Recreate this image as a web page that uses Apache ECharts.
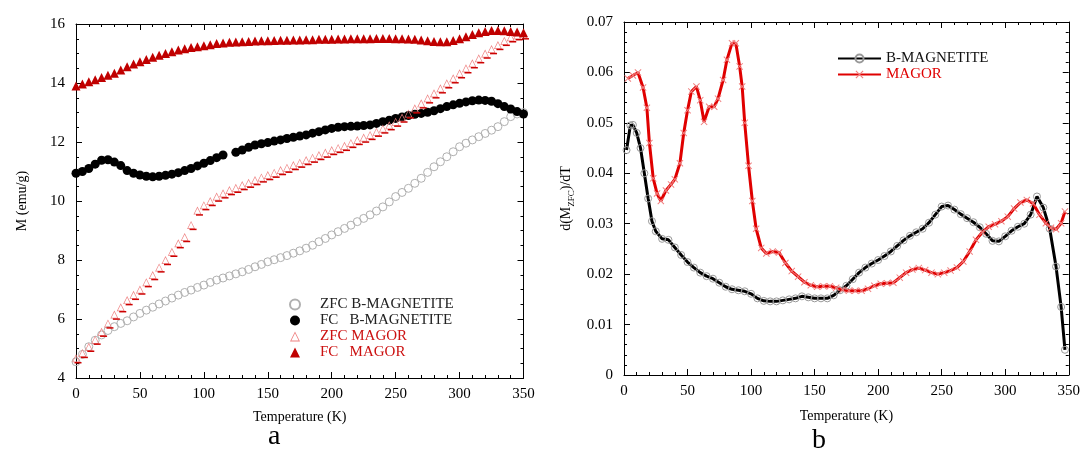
<!DOCTYPE html>
<html>
<head>
<meta charset="utf-8">
<script src="https://cdn.jsdelivr.net/npm/echarts@6/dist/echarts.min.js"></script>
<style>
html,body{margin:0;padding:0;background:#fff;}
#c{width:1083px;height:455px;}
</style>
</head>
<body>
<div id="c"></div>
<script>
// ---------- Panel a data (T in K, M in emu/g) ----------
const tempsA = [0,5,10,15,20,25,30,35,40,45,50,55,60,65,70,75,80,85,90,95,100,105,110,115,120,125,130,135,140,145,150,155,160,165,170,175,180,185,190,195,200,205,210,215,220,225,230,235,240,245,250,255,260,265,270,275,280,285,290,295,300,305,310,315,320,325,330,335,340,345,350];
const zfcBMag = [4.55,4.8,5.06,5.28,5.46,5.61,5.74,5.85,5.94,6.07,6.19,6.3,6.4,6.51,6.61,6.71,6.81,6.9,6.98,7.07,7.15,7.24,7.32,7.39,7.46,7.53,7.6,7.68,7.77,7.85,7.94,8.01,8.08,8.15,8.23,8.31,8.4,8.5,8.62,8.73,8.85,8.96,9.07,9.18,9.3,9.41,9.53,9.66,9.8,9.97,10.15,10.29,10.43,10.6,10.77,10.97,11.16,11.33,11.5,11.67,11.84,11.96,12.07,12.18,12.29,12.4,12.52,12.69,12.86,12.95,13.0];
const fcBMag = [10.94,11.0,11.1,11.25,11.38,11.4,11.32,11.2,11.03,10.94,10.88,10.84,10.82,10.84,10.87,10.91,10.96,11.03,11.1,11.19,11.28,11.37,11.47,11.56,null,11.65,11.73,11.82,11.9,11.94,11.98,12.03,12.07,12.12,12.16,12.2,12.24,12.3,12.35,12.41,12.46,12.5,12.52,12.53,12.54,12.56,12.58,12.63,12.69,12.74,12.8,12.85,12.9,12.94,12.97,13.01,13.06,13.13,13.2,13.26,13.31,13.36,13.4,13.42,13.41,13.38,13.3,13.2,13.12,13.03,12.95];
const zfcMagor = [4.67,4.85,5.06,5.3,5.57,5.85,6.15,6.4,6.64,6.82,7.0,7.25,7.49,7.75,8.0,8.28,8.57,8.78,9.19,9.68,9.86,10.0,10.15,10.26,10.37,10.45,10.54,10.62,10.71,10.8,10.88,10.96,11.05,11.13,11.22,11.3,11.39,11.47,11.56,11.64,11.73,11.8,11.87,11.97,12.07,12.15,12.24,12.35,12.46,12.57,12.69,12.83,12.97,13.14,13.31,13.48,13.65,13.82,13.99,14.16,14.33,14.5,14.67,14.84,15.0,15.15,15.29,15.43,15.55,15.62,15.65];
const fcMagor = [13.9,13.97,14.04,14.11,14.19,14.26,14.33,14.44,14.55,14.64,14.72,14.8,14.87,14.94,15.0,15.06,15.12,15.16,15.2,15.23,15.26,15.3,15.34,15.36,15.38,15.39,15.4,15.41,15.42,15.43,15.43,15.44,15.45,15.45,15.46,15.46,15.47,15.47,15.48,15.48,15.48,15.49,15.49,15.5,15.5,15.5,15.5,15.51,15.51,15.51,15.5,15.5,15.49,15.48,15.46,15.43,15.41,15.4,15.4,15.44,15.5,15.57,15.64,15.7,15.75,15.78,15.78,15.77,15.75,15.73,15.7];

// ---------- Panel b data (T in K, dM_ZFC/dT) ----------
const tempsB = [2,5,7,10,13,16,19,22,25,30,35,40,45,50,55,60,65,70,75,80,85,90,95,100,105,110,115,120,125,130,135,140,145,150,155,160,165,170,175,180,185,190,195,200,205,210,215,220,225,230,235,240,245,250,255,260,265,270,275,280,285,290,295,300,305,310,315,320,325,330,335,340,344,347];
const dBMag = [0.0446,0.0495,0.0496,0.048,0.045,0.040,0.035,0.0305,0.0285,0.027,0.0268,0.0253,0.0238,0.0224,0.0213,0.0203,0.0196,0.0191,0.0183,0.0175,0.017,0.0168,0.0166,0.0161,0.0152,0.0147,0.0146,0.0146,0.0148,0.015,0.0152,0.0156,0.0154,0.0152,0.0152,0.0152,0.0158,0.0168,0.0177,0.019,0.0203,0.0213,0.0221,0.0228,0.0236,0.0245,0.0256,0.0267,0.0276,0.0283,0.029,0.0302,0.0318,0.0334,0.0336,0.0328,0.0319,0.0311,0.0303,0.0293,0.028,0.0266,0.0265,0.0275,0.0286,0.0294,0.03,0.0318,0.0354,0.0332,0.029,0.0215,0.0135,0.005];
const tempsM = [3,7,11,15,18,20,23,26,29,33,37,40,44,47,50,53,57,60,63,67,71,74,78,81,85,88,91,93,95,98,101,104,108,112,117,122,127,132,137,142,147,152,157,162,167,172,177,182,187,192,197,202,207,212,217,222,227,232,237,242,247,252,257,262,267,272,277,282,287,292,297,302,307,312,317,322,327,332,336,340,344,347];
const dMagor = [0.0588,0.0594,0.06,0.057,0.053,0.046,0.039,0.036,0.0345,0.0366,0.0378,0.0388,0.042,0.048,0.0525,0.0562,0.0572,0.0545,0.0502,0.0532,0.0532,0.0548,0.0585,0.0625,0.0658,0.0658,0.0612,0.0572,0.05,0.0415,0.0345,0.029,0.0252,0.0241,0.0245,0.0243,0.0222,0.0206,0.0195,0.0184,0.0178,0.0175,0.0176,0.0176,0.0173,0.0169,0.0167,0.0167,0.0167,0.0171,0.0177,0.0181,0.0182,0.0183,0.0193,0.0203,0.0209,0.0212,0.0208,0.0203,0.02,0.0203,0.0207,0.0213,0.0225,0.0245,0.0268,0.0283,0.0294,0.0299,0.0305,0.0314,0.033,0.0342,0.0347,0.034,0.0318,0.0301,0.0292,0.0289,0.0301,0.0324];

const FONT = 'Liberation Serif';
const pairs = (xs, ys) => xs.map((x, i) => [x, ys[i]]);

const chart = echarts.init(document.getElementById('c'), null, {renderer: 'canvas'});

function axis(extra) {
  return Object.assign({
    type: 'value',
    axisLine: {show: true, onZero: false, lineStyle: {color: '#000', width: 1}},
    axisTick: {show: true, inside: true, length: 6, lineStyle: {color: '#000'}},
    minorTick: {show: true, splitNumber: 5, length: 3, lineStyle: {color: '#000'}},
    splitLine: {show: false},
    minorSplitLine: {show: false},
    axisLabel: {fontFamily: FONT, fontSize: 15, color: '#000'}
  }, extra);
}

const xA = {min: 0, max: 350, interval: 50};
const yA = {min: 4, max: 16, interval: 2};
const yB = {min: 0, max: 0.07, interval: 0.01};

const XMARK = 'path://M0,1L1,0L5,4L9,0L10,1L6,5L10,9L9,10L5,6L1,10L0,9L4,5Z';
const OPEN_TRI = 'path://M5,0L10,10L0,10Z M5,1.8L1.4,9.1L8.6,9.1Z';

const option = {
  animation: false,
  backgroundColor: '#fff',
  grid: [
    {left: 76, top: 24, width: 447.5, height: 354},
    {left: 624, top: 22, width: 447, height: 353}
  ],
  xAxis: [
    axis(Object.assign({gridIndex: 0, position: 'bottom', name: 'Temperature (K)', nameLocation: 'middle', nameGap: 32,
      nameTextStyle: {fontFamily: FONT, fontSize: 14, color: '#000'},
      axisLabel: {fontFamily: FONT, fontSize: 15, color: '#000', margin: 9}}, xA)),
    axis(Object.assign({gridIndex: 0, position: 'top', axisLabel: {show: false}}, xA)),
    axis(Object.assign({gridIndex: 1, position: 'bottom', name: 'Temperature (K)', nameLocation: 'middle', nameGap: 34,
      nameTextStyle: {fontFamily: FONT, fontSize: 14, color: '#000'},
      axisLabel: {fontFamily: FONT, fontSize: 15, color: '#000', margin: 9}}, xA)),
    axis(Object.assign({gridIndex: 1, position: 'top', axisLabel: {show: false}}, xA))
  ],
  yAxis: [
    axis(Object.assign({gridIndex: 0, position: 'left', name: 'M (emu/g)', nameLocation: 'middle', nameGap: 47,
      nameTextStyle: {fontFamily: FONT, fontSize: 14, color: '#000'},
      minorTick: {show: true, splitNumber: 4, length: 3, lineStyle: {color: '#000'}},
      axisLabel: {fontFamily: FONT, fontSize: 15, color: '#000', margin: 11}}, yA)),
    axis(Object.assign({gridIndex: 0, position: 'right', axisLabel: {show: false},
      minorTick: {show: true, splitNumber: 4, length: 3, lineStyle: {color: '#000'}}}, yA)),
    axis(Object.assign({gridIndex: 1, position: 'left', name: '{a|d(M}{s|ZFC}{a|)/dT}', nameLocation: 'middle', nameGap: 48,
      nameTextStyle: {fontFamily: FONT, fontSize: 14, color: '#000',
        rich: {
          a: {fontFamily: FONT, fontSize: 14, color: '#000', lineHeight: 20, verticalAlign: 'middle'},
          s: {fontFamily: FONT, fontSize: 9, color: '#000', lineHeight: 9, verticalAlign: 'bottom'}
        }},
      axisLabel: {fontFamily: FONT, fontSize: 15, color: '#000', margin: 11,
        formatter: v => (v === 0 ? '0' : v.toFixed(2))}}, yB)),
    axis(Object.assign({gridIndex: 1, position: 'right', axisLabel: {show: false}}, yB))
  ],
  legend: [
    {
      orient: 'vertical', left: 284, top: 292, itemWidth: 10, itemHeight: 10, itemGap: 1,
      textStyle: {fontFamily: FONT, fontSize: 15, color: '#222', padding: [0, 0, 0, 15]},
      selectedMode: false,
      data: [
        {name: 'ZFC B-MAGNETITE', textStyle: {color: '#222'}},
        {name: 'FC   B-MAGNETITE', textStyle: {color: '#222'}},
        {name: 'ZFC MAGOR', textStyle: {color: '#cc1111'}},
        {name: 'FC   MAGOR', textStyle: {color: '#cc1111'}}
      ]
    },
    {
      orient: 'vertical', left: 832, top: 46, itemWidth: 43, itemHeight: 10, itemGap: 1,
      textStyle: {fontFamily: FONT, fontSize: 15, color: '#000'},
      selectedMode: false,
      data: [
        {name: 'B-MAGNETITE', textStyle: {color: '#111'}},
        {name: 'MAGOR', textStyle: {color: '#e00000'}}
      ]
    }
  ],
  graphic: [
    {type: 'text', left: 268, top: 423, style: {text: 'a', font: '28px "Liberation Serif"', fill: '#000'}},
    {type: 'text', left: 812, top: 427, style: {text: 'b', font: '28px "Liberation Serif"', fill: '#000'}}
  ],
  series: [
    {
      name: 'ZFC B-MAGNETITE', type: 'scatter', xAxisIndex: 0, yAxisIndex: 0,
      data: pairs(tempsA, zfcBMag), symbol: 'circle', symbolSize: 8,
      itemStyle: {color: 'rgba(255,255,255,0)', borderColor: '#b0b0b0', borderWidth: 1, opacity: 1}
    },
    {
      name: 'FC   B-MAGNETITE', type: 'scatter', xAxisIndex: 0, yAxisIndex: 0,
      data: pairs(tempsA, fcBMag), symbol: 'circle', symbolSize: 9,
      itemStyle: {color: '#000', opacity: 1}
    },
    {
      name: 'ZFC MAGOR', type: 'scatter', xAxisIndex: 0, yAxisIndex: 0,
      data: pairs(tempsA, zfcMagor), symbol: OPEN_TRI, symbolSize: 8,
      itemStyle: {color: '#ee8080', opacity: 1}
    },
    {
      name: 'ZFC MAGOR', type: 'scatter', xAxisIndex: 0, yAxisIndex: 0,
      data: pairs(tempsA, zfcMagor), symbol: 'rect', symbolSize: [7, 1.5], symbolOffset: [2, 4.5],
      itemStyle: {color: '#cc0000', opacity: 1}
    },
    {
      name: 'FC   MAGOR', type: 'scatter', xAxisIndex: 0, yAxisIndex: 0,
      data: pairs(tempsA, fcMagor), symbol: 'triangle', symbolSize: 9,
      itemStyle: {color: '#c00000', opacity: 1}
    },
    {
      name: 'B-MAGNETITE', type: 'line', xAxisIndex: 2, yAxisIndex: 2,
      data: pairs(tempsB, dBMag), symbol: 'circle', symbolSize: 7, showSymbol: true,
      lineStyle: {color: '#000', width: 3},
      itemStyle: {color: 'rgba(255,255,255,0)', borderColor: '#999999', borderWidth: 1}
    },
    {
      name: 'MAGOR', type: 'line', xAxisIndex: 2, yAxisIndex: 2,
      data: pairs(tempsM, dMagor), symbol: XMARK, symbolSize: 7, showSymbol: true,
      lineStyle: {color: '#e00000', width: 3},
      itemStyle: {color: '#f08080'}
    }
  ]
};
chart.setOption(option);
</script>
</body>
</html>
